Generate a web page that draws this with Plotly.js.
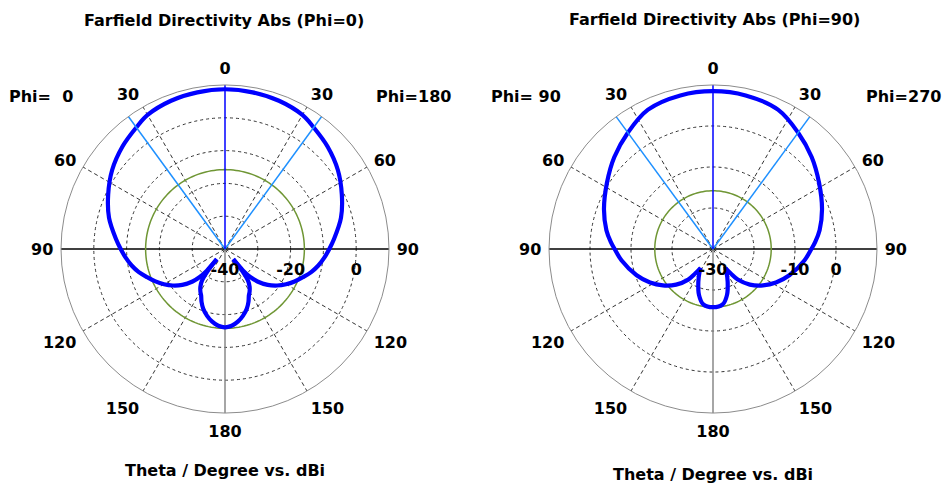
<!DOCTYPE html>
<html><head><meta charset="utf-8">
<script src="https://cdn.plot.ly/plotly-3.0.1.min.js"></script>
<style>html,body{margin:0;padding:0;background:#fff}#chart{width:948px;height:490px}</style>
</head><body><div id="chart"></div>
<script>
// Angular tick labels (theta mirrored on both halves)
const thetaTickVals = [0,30,60,90,120,150,180,210,240,270,300,330];
const thetaTickText = ['0','30','60','90','120','150','180','150','120','90','60','30'];
const spokeAngles = [30,60,120,150,210,240,300,330];

// Left plot (Phi=0 | Phi=180): plot angle clockwise from top, directivity in dBi
// main lobe (between the two nulls)
const leftMainTheta = [-141,-140,-138,-135,-130,-125,-120,-115,-110,-105,-100,-95,-90,-85,-75,-65,-55,-45,-36,-30,-20,-10,0,
  10,20,30,36,45,55,65,75,85,90,95,100,105,110,115,120,125,130,135,138,140,141];
const leftMainDir = [-36.0,-31.5,-28.5,-26.0,-23.0,-20.6,-18.5,-16.6,-14.8,-12.8,-11.1,-9.6,-8.2,-6.7,-3.4,-0.7,2.0,4.2,5.9,7.2,8.1,8.5,8.7,
  8.5,8.1,7.2,5.9,4.2,2.0,-0.7,-3.4,-6.7,-8.2,-9.6,-11.1,-12.8,-14.8,-16.6,-18.5,-20.6,-23.0,-26.0,-28.5,-31.5,-36.0];
// back lobe
const leftBackTheta = [141,142,144,147,150,153,156,160,165,170,175,180,185,190,195,200,204,207,210,213,216,218,219];
const leftBackDir = [-36.0,-31.0,-28.0,-26.2,-25.0,-24.0,-22.4,-20.6,-18.9,-17.5,-16.5,-16.1,
  -16.5,-17.5,-18.9,-20.6,-22.4,-24.0,-25.0,-26.2,-28.0,-31.0,-36.0];

// Right plot (Phi=90 | Phi=270)
const rightMainTheta = [-147,-144,-141,-134,-126,-118,-109,-97,-90,-86,-80,-70,-58,-47,-36,-25,-12,0,
  12,25,36,47,58,70,80,86,90,97,109,118,126,134,141,144,147];
const rightMainDir = [-24.5,-22.6,-20.4,-17.5,-14.9,-12.6,-10.3,-7.5,-6.0,-5.0,-3.6,-1.7,0.5,2.9,5.2,7.5,8.3,8.5,
  8.3,7.5,5.2,2.9,0.5,-1.7,-3.6,-5.0,-6.0,-7.5,-10.3,-12.6,-14.9,-17.5,-20.4,-22.6,-24.5];
const rightBackTheta = [147,150,156,163,170,180,190,197,204,210,213];
const rightBackDir = [-24.5,-23.4,-21.2,-18.3,-16.3,-15.8,-16.3,-18.3,-21.2,-23.4,-24.5];

// Radial axes
const leftRange = [-40, 10];
const leftRadialTicks = [-40,-30,-20,-10,0,10];
const leftRadialText = ['-40','','-20','','0',''];
const rightRange = [-30, 10];
const rightRadialTicks = [-30,-20,-10,0,10];
const rightRadialText = ['-30','','-10','0',''];

// Markers: main lobe direction, 3 dB beam edges, side lobe level
const mainLobeDir = [0];
const leftBeamEdges = [-36.1, 36.1];
const rightBeamEdges = [-36.2, 36.2];
const leftSideLobe = -15.8;
const rightSideLobe = -15.8;

const titles = ['Farfield Directivity Abs (Phi=0)', 'Farfield Directivity Abs (Phi=90)'];
const phiLabels = [['Phi=\u00a0\u00a00','Phi=180'], ['Phi=\u00a090','Phi=270']];
const xTitle = 'Theta / Degree vs. dBi';

const W = 948, H = 490;
const boldFont = {family:'DejaVu Sans, Verdana, sans-serif', size:16, weight:'bold', color:'#000'};

function seg(sub, theta, r, color, width, extra) {
  return Object.assign({type:'scatterpolar', subplot:sub, mode:'lines', theta:theta, r:r,
    line:{color:color, width:width}, hoverinfo:'skip'}, extra || {});
}

function buildTraces(sub, lobes, range, beamEdges, sideLobe) {
  const tr = [];
  // dashed spokes
  spokeAngles.forEach(a => tr.push(seg(sub, [a,a], [range[0],range[1]], '#333', 1)));
  tr.forEach(t => t.line.dash = '4px,3px');
  // axis lines
  tr.push(seg(sub, [90,90,270], [range[1],range[0],range[1]], '#000', 1.4));
  tr.push(seg(sub, [180,180], [range[0],range[1]], '#808080', 1.4));
  // side lobe level circle
  const circT = [], circR = [];
  for (let a = 0; a <= 360; a += 2) { circT.push(a); circR.push(sideLobe); }
  tr.push(seg(sub, circT, circR, '#6f9634', 1.5));
  // directivity lobes
  lobes.forEach(l => {
    const t = seg(sub, l[0], l[1], '#0000ff', 4.2);
    t.line.shape = 'spline'; t.line.smoothing = 1;
    tr.push(t);
  });
  // beam edges
  beamEdges.forEach(b => tr.push(seg(sub, [b,b], [range[0],range[1]], '#1e90ff', 1.5)));
  // main lobe direction
  mainLobeDir.forEach(m => tr.push(seg(sub, [m,m], [range[0],range[1]], '#0000ff', 1.5)));
  return tr;
}

function polarLayout(cx, range, tv, tt) {
  const cy = 249, R = 164;
  return {
    domain:{x:[(cx-R)/W,(cx+R)/W], y:[(H-cy-R)/H,(H-cy+R)/H]},
    bgcolor:'#fff',
    angularaxis:{rotation:90, direction:'clockwise', tickvals:thetaTickVals, ticktext:thetaTickText,
      showgrid:false, showline:true, linecolor:'#8c8c8c', linewidth:1,
      ticks:'outside', ticklen:4, tickcolor:'rgba(0,0,0,0)', tickfont:boldFont},
    radialaxis:{range:range, tickvals:tv, ticktext:tt, angle:0, side:'clockwise',
      showgrid:true, gridcolor:'#333', griddash:'3px,3px', gridwidth:1,
      showline:false, ticks:'outside', ticklen:6, tickcolor:'rgba(0,0,0,0)', tickfont:boldFont}
  };
}

const data = [].concat(
  buildTraces('polar', [[leftMainTheta,leftMainDir],[leftBackTheta,leftBackDir]], leftRange, leftBeamEdges, leftSideLobe),
  buildTraces('polar2', [[rightMainTheta,rightMainDir],[rightBackTheta,rightBackDir]], rightRange, rightBeamEdges, rightSideLobe)
);

function ann(text, px, py) {
  return {text:text, x:px/W, y:1-py/H, xref:'paper', yref:'paper', showarrow:false,
    xanchor:'center', yanchor:'middle', font:boldFont};
}

const layout = {
  width:W, height:H, margin:{l:0,r:0,t:0,b:0}, paper_bgcolor:'#fff', showlegend:false,
  polar: polarLayout(225, leftRange, leftRadialTicks, leftRadialText),
  polar2: polarLayout(713, rightRange, rightRadialTicks, rightRadialText),
  annotations:[
    ann(titles[0], 224, 20), ann(titles[1], 714, 19),
    ann(phiLabels[0][0], 41, 97), ann(phiLabels[0][1], 413, 97),
    ann(phiLabels[1][0], 526, 96), ann(phiLabels[1][1], 903, 96),
    ann(xTitle, 225, 470), ann(xTitle, 713, 474)
  ]
};

Plotly.newPlot('chart', data, layout, {staticPlot:true, displayModeBar:false});
</script></body></html>
